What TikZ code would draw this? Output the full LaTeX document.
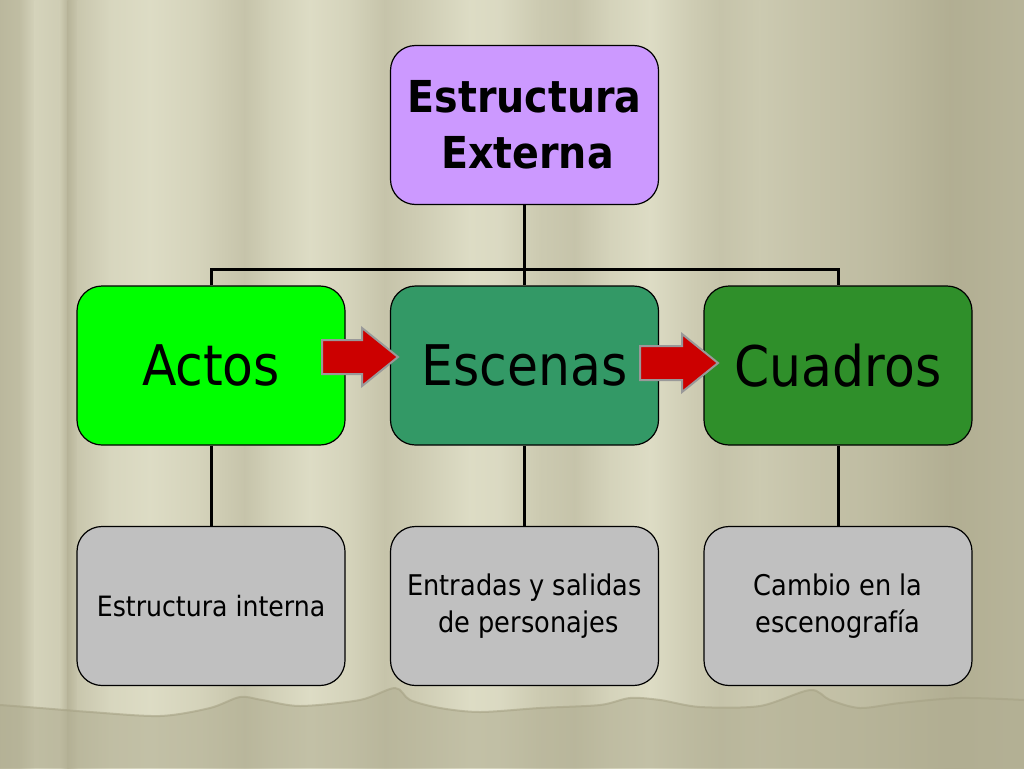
\documentclass[tikz,border=0pt]{standalone}
\usepackage{fontspec}
\setmainfont{DejaVu Sans Condensed}
\definecolor{curLight}{RGB}{224,223,200}
\definecolor{curDark}{RGB}{166,162,133}
\definecolor{lilac}{RGB}{204,153,255}
\definecolor{lime}{RGB}{0,255,0}
\definecolor{seagreen}{RGB}{51,153,102}
\definecolor{leafgreen}{RGB}{47,143,42}
\definecolor{panelgray}{RGB}{192,192,192}
\definecolor{arrowred}{RGB}{204,0,0}
\begin{document}
\begin{tikzpicture}[x=1pt, y=-1pt,
  box/.style={draw=black, line width=1.2pt, rounded corners=25pt,
    minimum width=268pt, minimum height=159pt, align=center, inner sep=0pt},
  conn/.style={line width=3pt},
  redarrow/.style={fill=arrowred, draw=black!40, line width=2pt, line join=miter}]
  \useasboundingbox (0,0) rectangle (1024,768);
  % curtain background
  \foreach \xa/\pa/\xb/\pb in {0/35/20/45, 20/45/35/80, 35/80/60/70, 60/70/68/30,
      68/30/78/60, 78/60/110/85, 110/85/150/95, 150/95/200/80, 200/80/245/55,
      245/55/270/75, 270/75/310/95, 310/95/350/80, 350/80/385/55, 385/55/420/70,
      420/70/470/95, 470/95/500/90, 500/90/540/65, 540/65/575/55, 575/55/610/80,
      610/80/650/95, 650/95/690/70, 690/70/720/55, 720/55/760/65, 760/65/800/55,
      800/55/860/45, 860/45/900/35, 900/35/950/20, 950/20/1024/30}
    \shade[left color=curLight!\pa!curDark, right color=curLight!\pb!curDark]
      (\xa-0.5,0) rectangle (\xb+0.5,768);
  \fill[curDark!80!curLight, opacity=0.6] plot[smooth] coordinates {(0,705) (40,708)
      (90,712) (160,716) (210,708) (240,697) (262,700) (300,706) (360,700) (395,688)
      (410,700) (440,708) (480,712) (540,708) (600,705) (630,698) (660,700) (700,707)
      (760,706) (810,690) (830,700) (860,708) (900,703) (960,698) (1024,700)}
    -- (1024,768) -- (0,768) -- cycle;
  \draw[curDark, line width=2pt, opacity=0.6] plot[smooth] coordinates {(0,705) (40,708)
      (90,712) (160,716) (210,708) (240,697) (262,700) (300,706) (360,700) (395,688)
      (410,700) (440,708) (480,712) (540,708) (600,705) (630,698) (660,700) (700,707)
      (760,706) (810,690) (830,700) (860,708) (900,703) (960,698) (1024,700)};
  % boxes
  \node[box, fill=lilac, font=\fontsize{44}{56}\selectfont\bfseries] (top) at (524.5,125)
    {Estructura\\\hspace{6pt}Externa};
  \node[box, fill=lime, font=\fontsize{56}{60}\selectfont] (actos) at (211,365.5) {Actos};
  \node[box, fill=seagreen, font=\fontsize{56}{60}\selectfont] (escenas) at (524.5,365.5) {Escenas};
  \node[box, fill=leafgreen, font=\fontsize{56}{60}\selectfont] (cuadros) at (838,365.5) {Cuadros};
  \node[box, fill=panelgray, font=\fontsize{28}{37}\selectfont] (actosnote) at (211,606)
    {\raisebox{-3pt}{Estructura interna}};
  \node[box, fill=panelgray, font=\fontsize{28.5}{37}\selectfont, text depth=6pt] (escenasnote) at (524.5,606)
    {Entradas y salidas\\\hspace{8pt}de personajes};
  \node[box, fill=panelgray, font=\fontsize{28.5}{37}\selectfont, text depth=6pt] (cuadrosnote) at (838,606)
    {Cambio en la\\escenografía};
  % connectors
  \coordinate (bus) at (escenas.north |- 0,269);
  \draw[conn] (top.south) -- (escenas.north);
  \draw[conn] (actos.north) |- (bus) -| (cuadros.north);
  \draw[conn] (actos.south) -- (actosnote.north);
  \draw[conn] (escenas.south) -- (escenasnote.north);
  \draw[conn] (cuadros.south) -- (cuadrosnote.north);
  % red arrows
  \draw[redarrow] (322,340) -- (362,340) -- (362,328) -- (398,357) -- (362,386)
    -- (362,374) -- (322,374) -- cycle;
  \draw[redarrow] (640,346) -- (682,346) -- (682,334) -- (718,363) -- (682,392)
    -- (682,380) -- (640,380) -- cycle;
\end{tikzpicture}
\end{document}
